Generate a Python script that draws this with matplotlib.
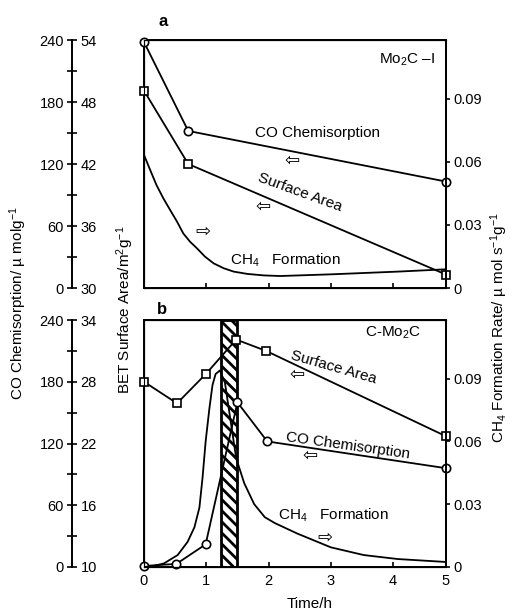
import numpy as np
import matplotlib
matplotlib.use("Agg")
import matplotlib.pyplot as plt

plt.rcParams['font.family'] = ['Liberation Sans', 'DejaVu Sans']
plt.rcParams['mathtext.fontset'] = 'custom'
plt.rcParams['mathtext.rm'] = 'Liberation Sans'
plt.rcParams['mathtext.it'] = 'Liberation Sans:italic'
plt.rcParams['hatch.linewidth'] = 2.0

# panel a (Mo2C-I)
t_co_a = [0, 0.71, 5]
co_a = [238, 152, 103]
t_sa_a = [0, 0.71, 5]
sa_a = [49.1, 42.0, 31.3]
t_ch4_a = [0, 0.1, 0.2, 0.31, 0.42, 0.53, 0.63, 0.74, 0.85, 0.98, 1.12, 1.28, 1.44,
           1.66, 1.92, 2.19, 3.0, 4.09, 5.0]
ch4_a = [0.0633, 0.0561, 0.049, 0.0427, 0.0371, 0.0316, 0.026, 0.022, 0.0189, 0.0149,
         0.0117, 0.0094, 0.0078, 0.0067, 0.006, 0.0057, 0.0065, 0.0078, 0.0089]

# panel b (C-Mo2C)
t_co_b = [0, 0.52, 0.99, 1.5, 1.98, 5]
co_b = [1, 3, 22, 160, 122, 96]
t_sa_b = [0, 0.53, 1.0, 1.48, 1.96, 5]
sa_b = [28.0, 25.9, 28.8, 32.1, 31.0, 22.7]
t_ch4_b = [0, 0.15, 0.32, 0.54, 0.70, 0.81, 0.89, 0.94, 0.99, 1.05, 1.10, 1.15, 1.22,
           1.3, 1.4, 1.48, 1.61, 1.77, 1.94, 2.1, 2.46, 3.0, 3.53, 4.09, 5.0]
ch4_b = [0, 0.0005, 0.0017, 0.0057, 0.012, 0.019, 0.0284, 0.0426, 0.060, 0.0757, 0.0869,
         0.0922, 0.0939, 0.088, 0.068, 0.052, 0.040, 0.030, 0.0238, 0.021, 0.016, 0.0094,
         0.0057, 0.0038, 0.0024]
band_b = (1.24, 1.5)

co_ticks = [0, 60, 120, 180, 240]
bet_ticks_a = [30, 36, 42, 48, 54]
bet_ticks_b = [10, 16, 22, 28, 34]
ch4_ticks = [0, 0.03, 0.06, 0.09]
time_ticks = [0, 1, 2, 3, 4, 5]


def fwd(t):
    t = np.asarray(t, dtype=float)
    return np.where(t <= 4, t, 4 + (t - 4) * 0.85)


def inv(x):
    x = np.asarray(x, dtype=float)
    return np.where(x <= 4, x, 4 + (x - 4) / 0.85)


W, H = 512, 612
fig = plt.figure(figsize=(5.12, 6.12), dpi=100)
lw = 1.4
fs = 10.5


def box(x0, y0, x1, y1):
    return [x0 / W, 1 - y1 / H, (x1 - x0) / W, (y1 - y0) / H]


def outer_axis(y0, y1, bet_ticks):
    oa = fig.add_axes(box(72, y0, 72.2, y1))
    oa.set_ylim(0, 240)
    oa.set_xticks([])
    for s in ['top', 'right', 'bottom']:
        oa.spines[s].set_visible(False)
    oa.spines['left'].set_linewidth(lw)
    oa.set_yticks(co_ticks)
    oa.set_yticks([30, 90, 150, 210], minor=True)
    oa.tick_params(which='both', direction='inout', length=7.5, width=1.2, labelsize=fs, pad=2)
    ob = oa.twinx()
    ob.set_ylim(bet_ticks[0], bet_ticks[-1])
    ob.set_yticks(bet_ticks)
    ob.tick_params(length=0, labelsize=fs, pad=6)
    for s in ob.spines.values():
        s.set_visible(False)


def panel(y0, y1, t_co, co, t_sa, sa, t_ch4, ch4, bet_lim, show_x):
    ax = fig.add_axes(box(144, y0, 446, y1))
    ax.set_xscale('function', functions=(fwd, inv))
    ax.set_xlim(0, 5)
    ax.set_ylim(0, 240)
    ax.set_yticks([])
    for s in ax.spines.values():
        s.set_linewidth(lw)
    ax.set_xticks(time_ticks)
    ax.tick_params(axis='x', direction='in', length=3.5, width=1.2, labelsize=fs, pad=5,
                   labelbottom=show_x)
    ax.plot(t_co, co, color='black', lw=1.3, marker='o', ms=6, mfc='white', mec='black',
            mew=1.2, clip_on=False, zorder=4)

    axs = ax.twinx()
    axs.set_ylim(*bet_lim)
    axs.set_yticks([])
    axs.spines['right'].set_visible(False)
    axs.plot(t_sa, sa, color='black', lw=1.3, marker='s', ms=6, mfc='white', mec='black',
             mew=1.2, clip_on=False, zorder=4)

    axc = ax.twinx()
    axc.set_ylim(0, 0.118)
    axc.set_yticks(ch4_ticks)
    axc.set_yticklabels(['0', '0.03', '0.06', '0.09'])
    axc.spines['right'].set_linewidth(lw)
    axc.tick_params(axis='y', direction='out', length=3, width=1.2, labelsize=fs, pad=2)
    axc.plot(t_ch4, ch4, color='black', lw=1.3, zorder=3)
    return ax


arrow_kw = dict(fontsize=13, family=['DejaVu Sans'], ha='center', va='center')
txt_kw = dict(fontsize=11, ha='center', va='center')

# panel a
outer_axis(40, 288, bet_ticks_a)
ax_a = panel(40, 288, t_co_a, co_a, t_sa_a, sa_a, t_ch4_a, ch4_a, (30, 54), False)
ax_a.text(0.965, 0.92, 'Mo$_2$C –I', transform=ax_a.transAxes, fontsize=11, ha='right', va='center')
ax_a.text(0.576, 0.625, 'CO Chemisorption', transform=ax_a.transAxes, **txt_kw)
ax_a.text(0.517, 0.385, 'Surface Area', transform=ax_a.transAxes, rotation=-20, **txt_kw)
ax_a.text(0.285, 0.113, 'CH$_4$   Formation', transform=ax_a.transAxes, fontsize=11, ha='left', va='center')
ax_a.text(0.49, 0.512, '⇦', transform=ax_a.transAxes, **arrow_kw)
ax_a.text(0.394, 0.327, '⇦', transform=ax_a.transAxes, **arrow_kw)
ax_a.text(0.195, 0.226, '⇨', transform=ax_a.transAxes, **arrow_kw)

# panel b
outer_axis(320, 567, bet_ticks_b)
ax_b = panel(320, 567, t_co_b, co_b, t_sa_b, sa_b, t_ch4_b, ch4_b, (10, 34), True)
ax_b.axvspan(*band_b, facecolor='white', edgecolor='black', hatch='\\\\\\', lw=2, zorder=1)
ax_b.text(0.825, 0.948, 'C-Mo$_2$C', transform=ax_b.transAxes, **txt_kw)
ax_b.text(0.629, 0.81, 'Surface Area', transform=ax_b.transAxes, rotation=-16, **txt_kw)
ax_b.text(0.675, 0.49, 'CO Chemisorption', transform=ax_b.transAxes, rotation=-8, **txt_kw)
ax_b.text(0.444, 0.21, 'CH$_4$   Formation', transform=ax_b.transAxes, fontsize=11, ha='left', va='center')
ax_b.text(0.507, 0.777, '⇦', transform=ax_b.transAxes, **arrow_kw)
ax_b.text(0.55, 0.453, '⇦', transform=ax_b.transAxes, **arrow_kw)
ax_b.text(0.60, 0.121, '⇨', transform=ax_b.transAxes, **arrow_kw)

fig.text(163 / W, 1 - 22 / H, 'a', fontsize=12, fontweight='bold', ha='center', va='center')
fig.text(162 / W, 1 - 310 / H, 'b', fontsize=12, fontweight='bold', ha='center', va='center')

fig.text(18 / W, 1 - 303 / H, 'CO Chemisorption/ µ molg$^{-1}$', rotation=90, fontsize=11,
         ha='center', va='center')
fig.text(125 / W, 1 - 310 / H, 'BET Surface Area/m$^2$g$^{-1}$', rotation=90, fontsize=11,
         ha='center', va='center')
fig.text(499 / W, 1 - 328 / H, 'CH$_4$ Formation Rate/ µ mol s$^{-1}$g$^{-1}$', rotation=90,
         fontsize=11, ha='center', va='center')
fig.text(310 / W, 1 - 604 / H, 'Time/h', fontsize=11, ha='center', va='center')

fig.savefig('out.png', dpi=100)
